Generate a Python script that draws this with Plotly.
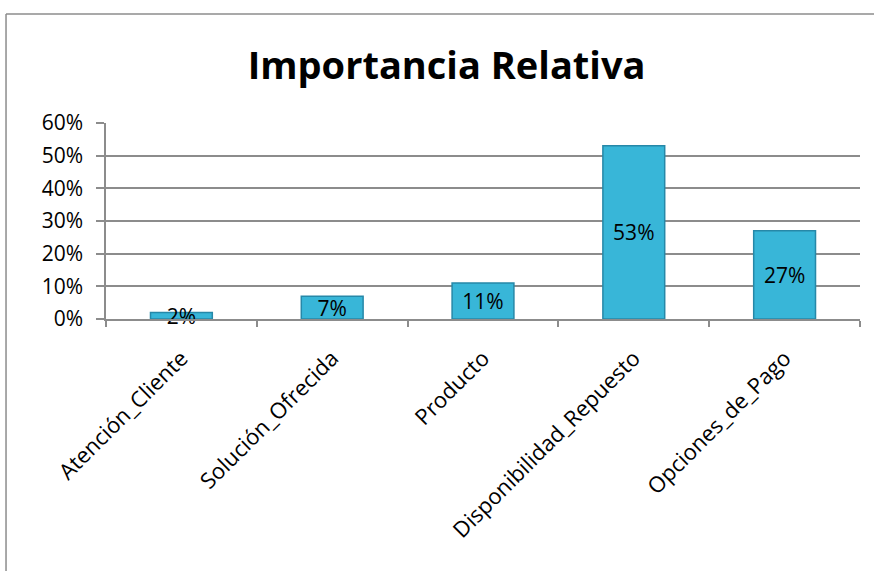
import plotly.graph_objects as go

categories = ["Atención_Cliente", "Solución_Ofrecida", "Producto", "Disponibilidad_Repuesto", "Opciones_de_Pago"]
values = [0.02, 0.07, 0.11, 0.53, 0.27]
labels = ["2%", "7%", "11%", "53%", "27%"]
tick_vals = [0, 0.1, 0.2, 0.3, 0.4, 0.5, 0.6]
tick_text = ["0%", "10%", "20%", "30%", "40%", "50%", "60%"]

FONT = "Open Sans"

fig = go.Figure()
fig.add_trace(go.Bar(
    x=categories, y=values, text=labels,
    textposition="inside", insidetextanchor="middle", constraintext="none",
    textfont=dict(family=FONT, size=21, color="black"),
    marker=dict(color="#38B6D8", line=dict(color="#2688A8", width=1.5)),
    width=0.41, cliponaxis=False,
))

fig.update_layout(
    width=874, height=571,
    margin=dict(l=106, r=14, t=123, b=252),
    paper_bgcolor="white", plot_bgcolor="white",
    title=dict(text="<b>Importancia Relativa</b>", x=0.511, xanchor="center",
               y=1 - 66 / 571, yanchor="middle",
               font=dict(family=FONT, size=38, color="black")),
    showlegend=False,
    shapes=[
        dict(type="line", xref="paper", yref="paper", x0=-0.1326, x1=1.05, y0=1.556, y1=1.556,
             line=dict(color="#8C8C8C", width=1.5)),
        dict(type="line", xref="paper", yref="paper", x0=-0.1326, x1=-0.1326, y0=1.556, y1=-1.4,
             line=dict(color="#8C8C8C", width=1.5)),
    ],
)
fig.update_yaxes(
    range=[0, 0.6], tickvals=tick_vals, ticktext=tick_text,
    showgrid=True, gridcolor="#8C8C8C", gridwidth=1.5,
    showline=True, linecolor="#8C8C8C", linewidth=1.5,
    ticks="outside", ticklen=8, tickcolor="#8C8C8C", tickwidth=1.5,
    tickfont=dict(family=FONT, size=21, color="black"),
    zeroline=False, ticklabelstandoff=9,
)
fig.update_xaxes(
    tickangle=-45, tickfont=dict(family=FONT, size=22, color="black"),
    showline=True, linecolor="#8C8C8C", linewidth=1.5,
    ticks="outside", ticklen=6, tickcolor="#8C8C8C", tickwidth=1.5,
    tickson="boundaries", showgrid=False, ticklabelstandoff=16,
)

fig.write_html("out.html")
